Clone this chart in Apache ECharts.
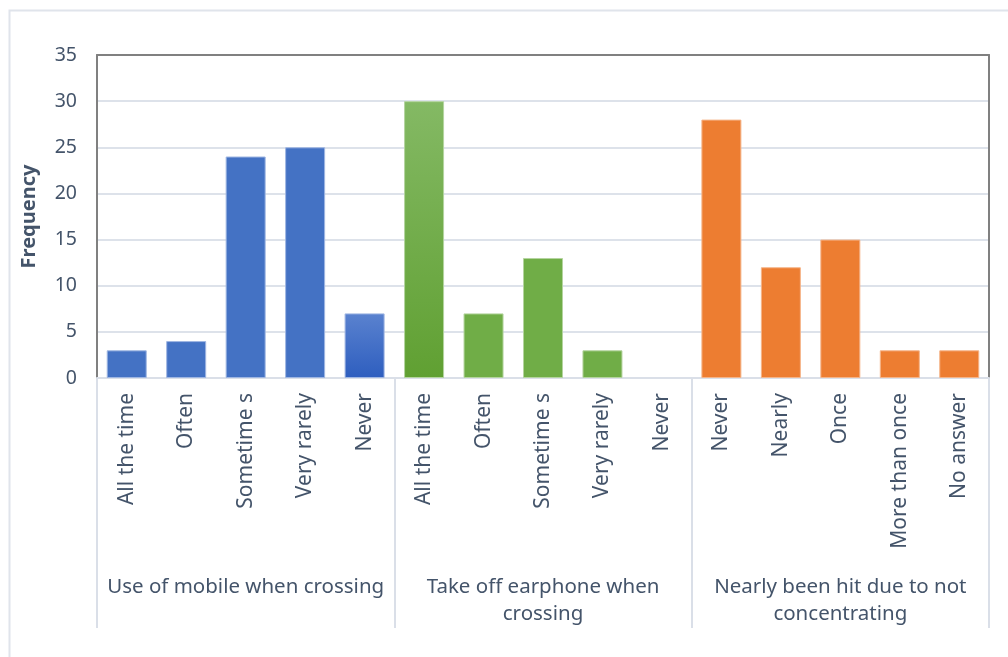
<!DOCTYPE html>
<html>
<head>
<meta charset="utf-8">
<script src="https://cdn.jsdelivr.net/npm/echarts@6/dist/echarts.min.js"></script>
<style>
  html, body { margin: 0; padding: 0; background: #ffffff; }
  #chart { width: 1008px; height: 657px; }
</style>
</head>
<body>
<div id="chart"></div>
<script>
// Survey responses: frequency per answer, grouped by question
const groupNames = [
  'Use of mobile when crossing',
  'Take off earphone when\ncrossing',
  'Nearly been hit due to not\nconcentrating'
];
const mobileAnswers = ['All the time', 'Often', 'Sometime s', 'Very rarely', 'Never'];
const mobileValues = [3, 4, 24, 25, 7];
const earphoneAnswers = ['All the time', 'Often', 'Sometime s', 'Very rarely', 'Never'];
const earphoneValues = [30, 7, 13, 3, 0];
const hitAnswers = ['Never', 'Nearly', 'Once', 'More than once', 'No answer'];
const hitValues = [28, 12, 15, 3, 3];
const yTicks = { min: 0, max: 35, step: 5 };

const BLUE = '#4472c4', GREEN = '#70ad47', ORANGE = '#ed7d31';
const TEXT = '#44546a';

function grad(top, bottom) {
  return new echarts.graphic.LinearGradient(0, 0, 0, 1, [
    { offset: 0, color: top }, { offset: 1, color: bottom }
  ]);
}

function item(v, color, edge) {
  return { value: v, itemStyle: { color: color, borderColor: edge, borderWidth: v > 0 ? 1 : 0 } };
}

const categories = [].concat(mobileAnswers, earphoneAnswers, hitAnswers);
const barData = [];
mobileValues.forEach((v, i) => barData.push(item(v, i === 4 ? grad('#5a82cf', '#2e5ebf') : BLUE, '#9fb6e2')));
earphoneValues.forEach((v, i) => barData.push(item(v, i === 0 ? grad('#84b964', '#60a032') : GREEN, '#b4d49f')));
hitValues.forEach(v => barData.push(item(v, ORANGE, '#f5b489')));

const chart = echarts.init(document.getElementById('chart'), null, { renderer: 'canvas' });
chart.setOption({
  backgroundColor: '#ffffff',
  animation: false,
  textStyle: { fontFamily: 'Noto Sans' },
  graphic: [{
    type: 'rect',
    left: 7, top: 8,
    shape: { width: 1100, height: 700 },
    style: { fill: 'none', stroke: '#e0e4eb', lineWidth: 2 },
    silent: true
  }],
  grid: { left: 97, right: 19, top: 55, bottom: 279 },
  xAxis: [
    {
      type: 'category',
      data: categories,
      position: 'bottom',
      axisLine: { show: true, lineStyle: { color: '#dadfe8', width: 2 } },
      axisTick: { show: false },
      axisLabel: {
        interval: 0, rotate: 90, margin: 15,
        color: TEXT, fontSize: 21, fontFamily: 'Noto Sans'
      },
      splitLine: { show: false }
    },
    {
      type: 'category',
      data: groupNames,
      position: 'bottom',
      axisLine: { show: false },
      axisTick: {
        show: true, interval: 0, alignWithLabel: false, length: 250,
        lineStyle: { color: '#dadfe8', width: 2 }
      },
      axisLabel: {
        interval: 0, margin: 196, color: TEXT, fontSize: 20.5, lineHeight: 27,
        fontFamily: 'Noto Sans', align: 'center'
      },
      splitLine: { show: false }
    },
    {
      type: 'category',
      data: groupNames,
      position: 'top',
      axisLine: { show: true, lineStyle: { color: '#808080', width: 2 } },
      axisTick: { show: false },
      axisLabel: { show: false },
      splitLine: { show: false }
    }
  ],
  yAxis: [
    {
      type: 'value',
      min: yTicks.min, max: yTicks.max, interval: yTicks.step,
      name: 'Frequency',
      nameLocation: 'middle',
      nameGap: 58,
      nameRotate: 90,
      nameTextStyle: { color: TEXT, fontSize: 20, fontWeight: 'bold', fontFamily: 'Noto Sans' },
      axisLine: { show: true, lineStyle: { color: '#808080', width: 2 } },
      axisTick: { show: false },
      axisLabel: { color: TEXT, fontSize: 19.5, margin: 20, fontFamily: 'Noto Sans' },
      splitLine: { show: true, lineStyle: { color: '#dde2ea', width: 2 } }
    },
    {
      type: 'value',
      position: 'right',
      min: yTicks.min, max: yTicks.max, interval: yTicks.step,
      axisLine: { show: true, lineStyle: { color: '#808080', width: 2 } },
      axisTick: { show: false },
      axisLabel: { show: false },
      splitLine: { show: false }
    }
  ],
  series: [{
    type: 'bar',
    xAxisIndex: 0,
    yAxisIndex: 0,
    data: barData,
    barWidth: 40
  }]
});
</script>
</body>
</html>
